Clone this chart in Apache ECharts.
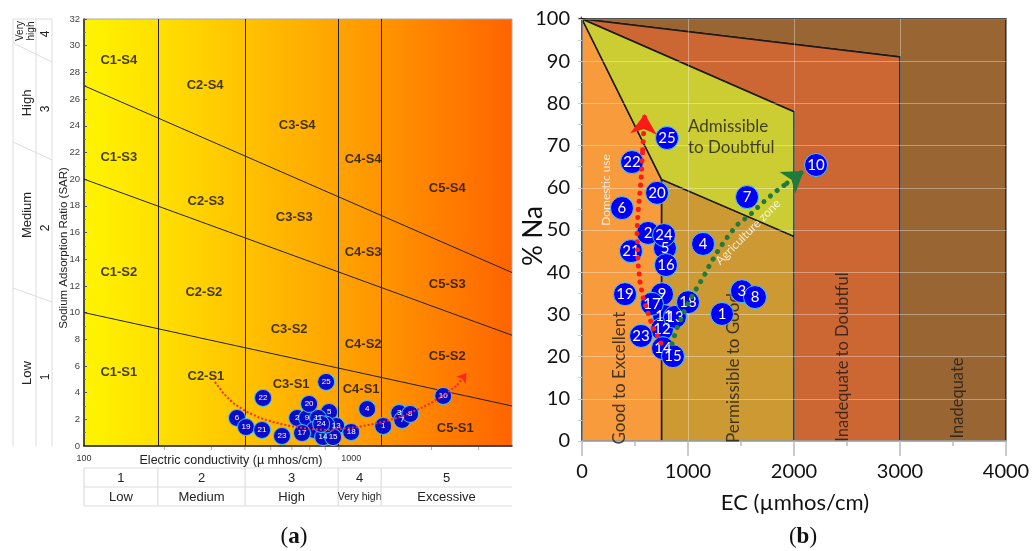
<!DOCTYPE html>
<html><head><meta charset="utf-8">
<script src="https://cdn.jsdelivr.net/npm/echarts@6/dist/echarts.min.js"></script>
<style>html,body{margin:0;padding:0;background:#fff}#c{width:1033px;height:551px}</style>
</head><body><div id="c"></div>
<script>
// ================= DATA =================
// Panel (a): USSL salinity diagram (EC log scale vs SAR), samples 1..25
const ecA  = [1318, 628, 1513, 1148, 827, 374, 1552, 1663, 684, 2211, 752, 727, 879, 785, 856, 806, 655, 1000, 404, 696, 464, 468, 551, 772, 806];
const sarA = [1.5, 2.1, 2.47, 2.77, 2.55, 2.1, 1.95, 2.4, 2.1, 3.75, 2.1, 1.2, 1.5, 0.67, 0.67, 1.6, 0.97, 1.05, 1.42, 3.15, 1.2, 3.6, 0.75, 1.65, 4.8];
const hiddenLabelsA = [12, 16];
// class boundaries on EC axis (panel a)
const classBoundsA = [189, 401, 894, 1295];
const classNumsA = ['1', '2', '3', '4', '5'];
const classNamesA = ['Low', 'Medium', 'High', 'Very high', 'Excessive'];
// sodium hazard boundary lines [EC, SAR] start/end
const sLinesA = [
  [[100, 10], [4000, 3.0]],
  [[100, 20], [4000, 8.3]],
  [[100, 27], [4000, 13.0]]
];
// zone labels [EC, SAR, text]
const zoneLabelsA = [
  [135, 28.9, 'C1-S4'], [284, 27.0, 'C2-S4'], [628, 24.0, 'C3-S4'], [1109, 21.5, 'C4-S4'], [2288, 19.3, 'C5-S4'],
  [135, 21.6, 'C1-S3'], [286, 18.3, 'C2-S3'], [612, 17.1, 'C3-S3'], [1109, 14.5, 'C4-S3'], [2288, 12.1, 'C5-S3'],
  [135, 13.0, 'C1-S2'], [281, 11.5, 'C2-S2'], [586, 8.7, 'C3-S2'], [1109, 7.6, 'C4-S2'], [2288, 6.7, 'C5-S2'],
  [135, 5.5, 'C1-S1'], [286, 5.2, 'C2-S1'], [596, 4.65, 'C3-S1'], [1090, 4.27, 'C4-S1'], [2452, 1.35, 'C5-S1']
];
// red trend curve (panel a); last point is the arrow tip
const trendA = [[309, 4.8], [332, 3.97], [361, 3.22], [408, 2.55], [456, 2.1], [510, 1.8], [591, 1.5], [702, 1.27], [813, 1.2], [909, 1.27], [1053, 1.42], [1318, 1.8], [1566, 2.25], [1860, 2.92], [2211, 3.75], [2495, 4.57], [2700, 5.45]];
const minorTicksA = [200, 300, 400, 500, 600, 700, 800, 900, 2000, 3000];

// Panel (b): Wilcox diagram (EC vs %Na)
const ecB = [1321, 623, 1509, 1142, 783, 377, 1557, 1632, 755, 2208, 774, 755, 877, 764, 858, 792, 660, 1000, 406, 708, 462, 472, 557, 774, 802];
const naB = [30.1, 49.3, 35.5, 46.7, 45.7, 55.2, 57.8, 34.1, 34.8, 65.4, 29.6, 26.5, 29.4, 22.0, 20.1, 41.7, 32.5, 32.9, 34.8, 58.8, 45.0, 66.1, 24.9, 48.8, 71.8];
const zoneInad      = [[0, 100], [4000, 100], [4000, 0], [3000, 0], [3000, 91]];
const zoneInadDoubt = [[0, 100], [3000, 91], [3000, 0], [2000, 0], [2000, 78]];
const zonePerm      = [[750, 0], [750, 62], [2000, 48.5], [2000, 0]];
const zoneGood      = [[0, 0], [0, 100], [750, 62], [750, 0]];
const zoneAdm       = [[0, 100], [2000, 78], [2000, 48.5], [750, 62]];
const zonesB = [zoneInad, zoneInadDoubt, zonePerm, zoneGood, zoneAdm];
const zoneColorsB = ['#996633', '#cc6633', '#cc9933', '#f89b3c', '#cccc33'];
// trend paths (panel b); last point is the arrow tip
const domesticTrendB = [[745, 23.2], [717, 24.6], [670, 26.8], [623, 30.3], [575, 34.1], [547, 37.7], [528, 42.2], [519, 49.3], [528, 54.0], [557, 61.8], [572, 69.0], [592, 77.5]];
const agriTrendB = [[849, 23.0], [896, 26.8], [991, 32.2], [1066, 35.5], [1151, 39.1], [1189, 41.0], [1264, 44.3], [1349, 47.6], [1462, 51.2], [1585, 53.6], [1679, 55.9], [1811, 58.8], [1934, 61.1], [2090, 64.0]];
// zone annotations [EC, %Na, text, rotate, align, fontSize, color]
const annotB = [
  [1000, 72.0, 'Admissible\nto Doubtful', 0, 'left', 17, '#1a1a1a'],
  [358, 14.9, 'Good to Excellent', 90, 'center', 17, '#1a1a1a'],
  [1425, 17.3, 'Permissible to Good', 90, 'center', 17, '#1a1a1a'],
  [2462, 19.9, 'Inadequate to Doubtful', 90, 'center', 16.5, '#1a1a1a'],
  [3547, 10.2, 'Inadequate', 90, 'center', 16.5, '#1a1a1a'],
  [226, 59.5, 'Domestic use', 90, 'center', 12, '#ffffff'],
  [1566, 49.5, 'Agriculture zone', 45, 'center', 12, '#ffffff']
];

// ================= CHART =================
const FA = 'Liberation Sans', FB = 'Lato';
const chart = echarts.init(document.getElementById('c'));
const lastSeg = arr => [arr[arr.length - 2], arr[arr.length - 1]];

const staticGraphics = [
  // left class table (panel a)
  {type:'line', shape:{x1:13,y1:19,x2:13,y2:446}, style:{stroke:'#ddd',lineWidth:1}},
  {type:'line', shape:{x1:36,y1:19,x2:36,y2:446}, style:{stroke:'#ddd',lineWidth:1}},
  {type:'line', shape:{x1:52,y1:19,x2:52,y2:446}, style:{stroke:'#ddd',lineWidth:1}},
  {type:'line', shape:{x1:13,y1:19,x2:52,y2:19}, style:{stroke:'#ddd',lineWidth:1}},
  {type:'line', shape:{x1:13,y1:43,x2:52,y2:62}, style:{stroke:'#ddd',lineWidth:1}},
  {type:'line', shape:{x1:13,y1:142,x2:52,y2:160}, style:{stroke:'#ddd',lineWidth:1}},
  {type:'line', shape:{x1:13,y1:288,x2:52,y2:302}, style:{stroke:'#ddd',lineWidth:1}},
  {type:'text', x:20, y:31, rotation:Math.PI/2, style:{text:'Very', fontSize:10, fontFamily:FA, fill:'#222', align:'center', verticalAlign:'middle'}},
  {type:'text', x:31, y:31, rotation:Math.PI/2, style:{text:'high', fontSize:10, fontFamily:FA, fill:'#222', align:'center', verticalAlign:'middle'}},
  {type:'text', x:46, y:34, rotation:Math.PI/2, style:{text:'4', fontSize:12, fontFamily:FA, fill:'#222', align:'center', verticalAlign:'middle'}},
  {type:'text', x:27, y:103, rotation:Math.PI/2, style:{text:'High', fontSize:13, fontFamily:FA, fill:'#222', align:'center', verticalAlign:'middle'}},
  {type:'text', x:46, y:109, rotation:Math.PI/2, style:{text:'3', fontSize:12, fontFamily:FA, fill:'#222', align:'center', verticalAlign:'middle'}},
  {type:'text', x:27, y:215, rotation:Math.PI/2, style:{text:'Medium', fontSize:13, fontFamily:FA, fill:'#222', align:'center', verticalAlign:'middle'}},
  {type:'text', x:46, y:228, rotation:Math.PI/2, style:{text:'2', fontSize:12, fontFamily:FA, fill:'#222', align:'center', verticalAlign:'middle'}},
  {type:'text', x:27, y:373, rotation:Math.PI/2, style:{text:'Low', fontSize:13, fontFamily:FA, fill:'#222', align:'center', verticalAlign:'middle'}},
  {type:'text', x:46, y:377, rotation:Math.PI/2, style:{text:'1', fontSize:12, fontFamily:FA, fill:'#222', align:'center', verticalAlign:'middle'}},
  // axis names
  {type:'text', x:64, y:248, rotation:Math.PI/2, style:{text:'Sodium Adsorption Ratio (SAR)', fontSize:11.5, fontFamily:FA, fill:'#222', align:'center', verticalAlign:'middle'}},
  {type:'text', x:231, y:461, style:{text:'Electric conductivity (\u00b5 mhos/cm)', fontSize:12.5, fontFamily:FA, fill:'#222', align:'center', verticalAlign:'middle'}},
  {type:'text', x:534, y:236, rotation:Math.PI/2, style:{text:'% Na', fontSize:26, fontFamily:FB, fill:'#111', align:'center', verticalAlign:'middle'}},
  {type:'text', x:795, y:503, style:{text:'EC (\u00b5mhos/cm)', fontSize:22, fontFamily:FB, fill:'#111', align:'center', verticalAlign:'middle'}},
  // panel captions
  {type:'text', x:294, y:537, style:{text:'({b|a})', rich:{b:{fontWeight:'bold', fontSize:23, fontFamily:'Liberation Serif', fill:'#111'}}, fontSize:23, fontFamily:'Liberation Serif', fill:'#111', align:'center', verticalAlign:'middle'}},
  {type:'text', x:803, y:537, style:{text:'({b|b})', rich:{b:{fontWeight:'bold', fontSize:23, fontFamily:'Liberation Serif', fill:'#111'}}, fontSize:23, fontFamily:'Liberation Serif', fill:'#111', align:'center', verticalAlign:'middle'}}
];

const option = {
  animation: false,
  textStyle: {fontFamily: FA},
  grid: [
    {left:84, top:19, width:428, height:427, show:true, borderColor:'#aaa', borderWidth:1,
     backgroundColor: new echarts.graphic.LinearGradient(0, 0, 1, 0, [
       {offset:0, color:'#fff500'}, {offset:0.2, color:'#ffdc00'}, {offset:0.45, color:'#ffb800'},
       {offset:0.7, color:'#ff9400'}, {offset:1, color:'#ff6400'}])},
    {left:582, top:19, width:424, height:422}
  ],
  xAxis: [
    {gridIndex:0, type:'log', logBase:10, min:100, max:4000,
     axisLine:{lineStyle:{color:'#222', width:1.5}}, axisTick:{show:false}, splitLine:{show:false},
     axisLabel:{fontSize:9, color:'#333', margin:8, fontFamily:FA, showMaxLabel:false,
       formatter: v => (Math.abs(v-100)<1 || Math.abs(v-1000)<1) ? String(Math.round(v)) : ''}},
    {gridIndex:1, type:'value', min:0, max:4000, interval:1000,
     axisLine:{lineStyle:{color:'#bbb', width:1.5}},
     axisTick:{length:15, lineStyle:{color:'#bbb', width:1.5}},
     minorTick:{show:true, splitNumber:2, length:5, lineStyle:{color:'#bbb', width:1.5}},
     splitLine:{show:true, lineStyle:{color:'rgba(255,255,255,0.35)', width:1}},
     axisLabel:{fontSize:20, color:'#111', margin:21, fontFamily:FB, formatter: v => String(v)}}
  ],
  yAxis: [
    {gridIndex:0, type:'value', min:0, max:32, interval:2,
     axisLine:{show:true, lineStyle:{color:'#222', width:1.5}},
     axisTick:{show:true, inside:true, length:3, lineStyle:{color:'#555'}},
     minorTick:{show:true, splitNumber:2, length:2, lineStyle:{color:'#777'}},
     splitLine:{show:false},
     axisLabel:{fontSize:9.5, color:'#444', margin:4, fontFamily:FA}},
    {gridIndex:1, type:'value', min:0, max:100, interval:10,
     axisLine:{show:false},
     axisTick:{show:true, length:4, lineStyle:{color:'#ccc'}},
     minorTick:{show:true, splitNumber:2, length:4, lineStyle:{color:'#ccc'}},
     splitLine:{show:true, lineStyle:{color:'rgba(255,255,255,0.35)', width:1}},
     axisLabel:{fontSize:20, color:'#111', margin:12, fontFamily:FB}}
  ],
  series: [
    // ---- panel a ----
    {type:'lines', coordinateSystem:'cartesian2d', xAxisIndex:0, yAxisIndex:0, silent:true,
     data: sLinesA.map(c => ({coords:c})), lineStyle:{color:'#222', width:1, opacity:1}},
    {type:'lines', coordinateSystem:'cartesian2d', xAxisIndex:0, yAxisIndex:0, silent:true,
     data: classBoundsA.map(v => ({coords:[[v, 0], [v, 32]]})), lineStyle:{color:'#222', width:1, opacity:1}},
    {type:'scatter', xAxisIndex:0, yAxisIndex:0, silent:true, symbolSize:1, itemStyle:{color:'rgba(0,0,0,0)'},
     data: zoneLabelsA,
     label:{show:true, position:'inside', formatter: p => p.data[2], fontWeight:'bold', fontSize:13, color:'#111', fontFamily:FA}},
    {type:'custom', xAxisIndex:0, yAxisIndex:0, silent:true, clip:false,
     data: minorTicksA.map(v => [v, 0]),
     renderItem: (params, api) => {
       const p = api.coord([api.value(0), 0]);
       return {type:'line', shape:{x1:p[0], y1:p[1]+1, x2:p[0], y2:p[1]+4}, style:{stroke:'#aaa', lineWidth:1}};
     }},
    {type:'scatter', xAxisIndex:0, yAxisIndex:0, z:4,
     data: ecA.map((e, i) => ({value:[e, sarA[i], i+1], label:{show: hiddenLabelsA.indexOf(i+1) < 0}})),
     symbolSize:17, itemStyle:{color:'#0c0cc8', borderColor:'#33ccff', borderWidth:1, opacity:1},
     label:{show:true, position:'inside', formatter: p => p.data.value[2], color:'#fff', fontSize:8, fontFamily:FA}},
    {type:'lines', coordinateSystem:'cartesian2d', xAxisIndex:0, yAxisIndex:0, polyline:true, silent:true, z:6,
     data:[{coords: trendA.slice(0, -1)}],
     lineStyle:{color:'#ff2424', width:2, type:[2, 2], opacity:1}},
    {type:'lines', coordinateSystem:'cartesian2d', xAxisIndex:0, yAxisIndex:0, silent:true, z:6,
     data:[{coords: lastSeg(trendA)}], symbol:['none','arrow'], symbolSize:9,
     lineStyle:{color:'#ff2424', width:2, type:[2, 2], opacity:1}},
    // ---- panel b ----
    {type:'custom', xAxisIndex:1, yAxisIndex:1, silent:true, z:-1,
     data: zonesB.map((z, i) => [0, 0, i]),
     renderItem: (params, api) => {
       const i = api.value(2);
       return {type:'polygon', shape:{points: zonesB[i].map(p => api.coord(p))},
               style:{fill: zoneColorsB[i], stroke:'#1a1a1a', lineWidth:1.5}};
     }},
    {type:'scatter', xAxisIndex:1, yAxisIndex:1, silent:true, symbolSize:1, itemStyle:{color:'rgba(0,0,0,0)'},
     data: annotB.map(a => ({value:[a[0], a[1]], label:{formatter:a[2], rotate:a[3], align:a[4], fontSize:a[5], color:a[6], lineHeight:21}})),
     label:{show:true, position:'inside', fontFamily:FB}},
    {type:'scatter', xAxisIndex:1, yAxisIndex:1, z:4,
     data: ecB.map((e, i) => [e, naB[i], i+1]),
     symbolSize:23, itemStyle:{color:'#0000f5', borderColor:'#44ccff', borderWidth:1, opacity:1},
     label:{show:true, position:'inside', formatter: p => p.data[2], color:'#fff', fontSize:15, fontFamily:FB}},
    {type:'lines', coordinateSystem:'cartesian2d', xAxisIndex:1, yAxisIndex:1, polyline:true, silent:true, z:6,
     data:[{coords: domesticTrendB.slice(0, -1)}],
     lineStyle:{color:'#ff1a1a', width:5, type:[0.1, 8], cap:'round', opacity:1}},
    {type:'lines', coordinateSystem:'cartesian2d', xAxisIndex:1, yAxisIndex:1, silent:true, z:6,
     data:[{coords: lastSeg(domesticTrendB)}], symbol:['none','arrow'], symbolSize:20,
     lineStyle:{color:'#ff1a1a', width:5, type:[0.1, 8], cap:'round', opacity:1}},
    {type:'lines', coordinateSystem:'cartesian2d', xAxisIndex:1, yAxisIndex:1, polyline:true, silent:true, z:6,
     data:[{coords: agriTrendB.slice(0, -1)}],
     lineStyle:{color:'#1e7b3c', width:5, type:[0.1, 8.5], cap:'round', opacity:1}},
    {type:'lines', coordinateSystem:'cartesian2d', xAxisIndex:1, yAxisIndex:1, silent:true, z:6,
     data:[{coords: lastSeg(agriTrendB)}], symbol:['none','arrow'], symbolSize:20,
     lineStyle:{color:'#1e7b3c', width:5, type:[0.1, 8.5], cap:'round', opacity:1}}
  ],
  graphic: staticGraphics
};
chart.setOption(option);

// bottom class table of panel (a), aligned with the EC class boundaries
const toPx = v => chart.convertToPixel({gridIndex:0}, [v, 0]);
const y0 = toPx(100)[1];
const edges = [toPx(100)[0]].concat(classBoundsA.map(v => toPx(v)[0]), [toPx(4000)[0]]);
const tableG = [];
[22, 41, 60].forEach(dy => tableG.push({type:'line', shape:{x1:edges[0], y1:y0+dy, x2:edges[5], y2:y0+dy}, style:{stroke:'#ddd', lineWidth:1.2}}));
for (let i = 0; i < 5; i++) {
  tableG.push({type:'line', shape:{x1:edges[i], y1:y0+22, x2:edges[i], y2:y0+60}, style:{stroke:'#ddd', lineWidth:1.2}});
  const cx = (edges[i] + edges[i+1]) / 2;
  tableG.push({type:'text', x:cx, y:y0+32.5, style:{text:classNumsA[i], fontSize:13, fontFamily:FA, fill:'#222', align:'center', verticalAlign:'middle'}});
  tableG.push({type:'text', x:cx, y:y0+51, style:{text:classNamesA[i], fontSize:(i === 3) ? 10.5 : 13, fontFamily:FA, fill:'#222', align:'center', verticalAlign:'middle'}});
}
chart.setOption({graphic: staticGraphics.concat(tableG)});
</script>
</body></html>
